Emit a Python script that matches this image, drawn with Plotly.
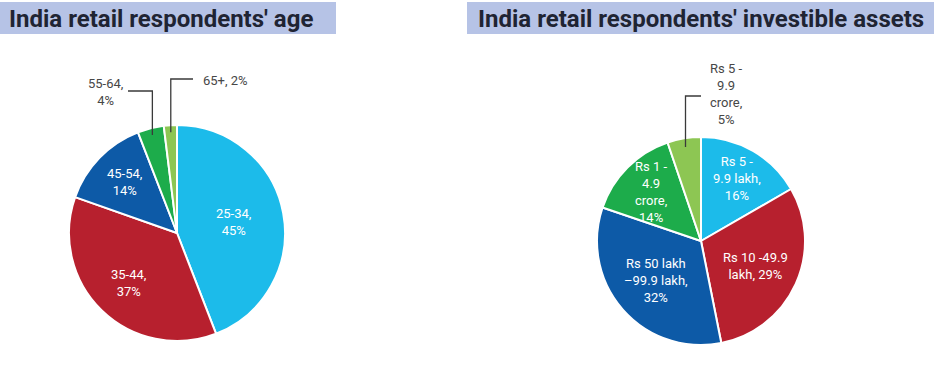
import math
import plotly.graph_objects as go

W, H = 934, 366

# ---------------- data ----------------
age_labels = ["25-34", "35-44", "45-54", "55-64", "65+"]
age_values = [45, 37, 14, 4, 2]
age_text = ["25-34,<br>45%", "35-44,<br>37%", "45-54,<br>14%", "55-64,<br>4%", "65+, 2%"]

asset_labels = ["Rs 5 - 9.9 lakh", "Rs 10 -49.9 lakh", "Rs 50 lakh -99.9 lakh",
                "Rs 1 - 4.9 crore", "Rs 5 - 9.9 crore"]
asset_values = [16, 29, 32, 14, 5]
asset_text = ["Rs 5 -<br>9.9 lakh,<br>16%", "Rs 10 -49.9<br>lakh, 29%",
              "Rs 50 lakh<br>–99.9 lakh,<br>32%", "Rs 1 -<br>4.9<br>crore,<br>14%",
              "Rs 5 -<br>9.9<br>crore,<br>5%"]

titles = ["India retail respondents' age", "India retail respondents' investible assets"]

# ---------------- style ----------------
colors = ["#1cbbea", "#b7202e", "#0d5aa7", "#1dac4b", "#8dc653"]
band_color = "#b6c3e6"
title_color = "#1f2433"
label_font = "Roboto"

# pie geometry in pixels (center x, center y, radius)
pies = [
    dict(cx=177, cy=233, R=108, values=age_values, labels=age_labels, text=age_text,
         inside_r=[0.53, 0.64, 0.68, None, None]),
    dict(cx=701, cy=241, R=104, values=asset_values, labels=asset_labels, text=asset_text,
         inside_r=[0.69, 0.58, 0.58, 0.67, None]),
]

def px(x):
    return x / W

def py(y):
    return 1 - y / H

def mid_angle(values, i):
    tot = sum(values)
    return (sum(values[:i]) + values[i] / 2) / tot * 2 * math.pi

def polar(p, i, frac):
    a = mid_angle(p["values"], i)
    r = frac * p["R"]
    return p["cx"] + r * math.sin(a), p["cy"] - r * math.cos(a)

fig = go.Figure()
annotations = []
shapes = []

for p in pies:
    fig.add_trace(go.Pie(
        labels=p["labels"], values=p["values"], sort=False, direction="clockwise",
        rotation=0, textinfo="none", hoverinfo="label+percent",
        marker=dict(colors=colors, line=dict(color="white", width=2)),
        domain=dict(x=[px(p["cx"] - p["R"]), px(p["cx"] + p["R"])],
                    y=[py(p["cy"] + p["R"]), py(p["cy"] - p["R"])]),
        showlegend=False,
    ))
    for i, fr in enumerate(p["inside_r"]):
        if fr is None:
            continue
        x, y = polar(p, i, fr)
        annotations.append(dict(x=px(x), y=py(y), xref="paper", yref="paper",
                                xanchor="center", yanchor="middle",
                                text=p["text"][i], showarrow=False, align="center",
                                font=dict(family=label_font, size=13, color="white")))

# outside labels with elbow leader lines: (pie, slice, depth frac, elbow y, line end x, text x, text y, anchor)
outside = [
    (0, 3, 0.935, 91, 128, 105, 92, "center"),
    (0, 4, 0.935, 79, 193, 201, 80, "left"),
    (1, 4, 0.915, 96, 701, 726, 94, "center"),
]
for pi, si, depth, ey, ex, tx, ty, anc in outside:
    p = pies[pi]
    sx, sy = polar(p, si, depth)
    shapes.append(dict(type="path", xref="paper", yref="paper",
                       path=f"M {px(sx)},{py(sy)} L {px(sx)},{py(ey)} L {px(ex)},{py(ey)}",
                       line=dict(color="#3a3a3a", width=1.3)))
    annotations.append(dict(x=px(tx), y=py(ty), xref="paper", yref="paper",
                            text=p["text"][si], showarrow=False, align="center",
                            xanchor=anc, yanchor="middle",
                            font=dict(family=label_font, size=13, color="#474747")))

# title bands
bands = [(0, 336), (467, 934)]
title_x = [7, 476]
for (x0, x1), tx, t in zip(bands, title_x, titles):
    shapes.append(dict(type="rect", xref="paper", yref="paper", layer="below",
                       x0=px(x0), x1=px(x1), y0=py(34), y1=py(2),
                       fillcolor=band_color, line=dict(width=0)))
    annotations.append(dict(x=px(tx), y=py(19), xref="paper", yref="paper",
                            text=f"<b>{t}</b>", showarrow=False, xanchor="left",
                            yanchor="middle",
                            font=dict(family="Roboto", size=24, color=title_color)))

fig.update_layout(width=W, height=H, margin=dict(l=0, r=0, t=0, b=0),
                  paper_bgcolor="white", plot_bgcolor="white",
                  annotations=annotations, shapes=shapes)

fig.write_html("out.html")
